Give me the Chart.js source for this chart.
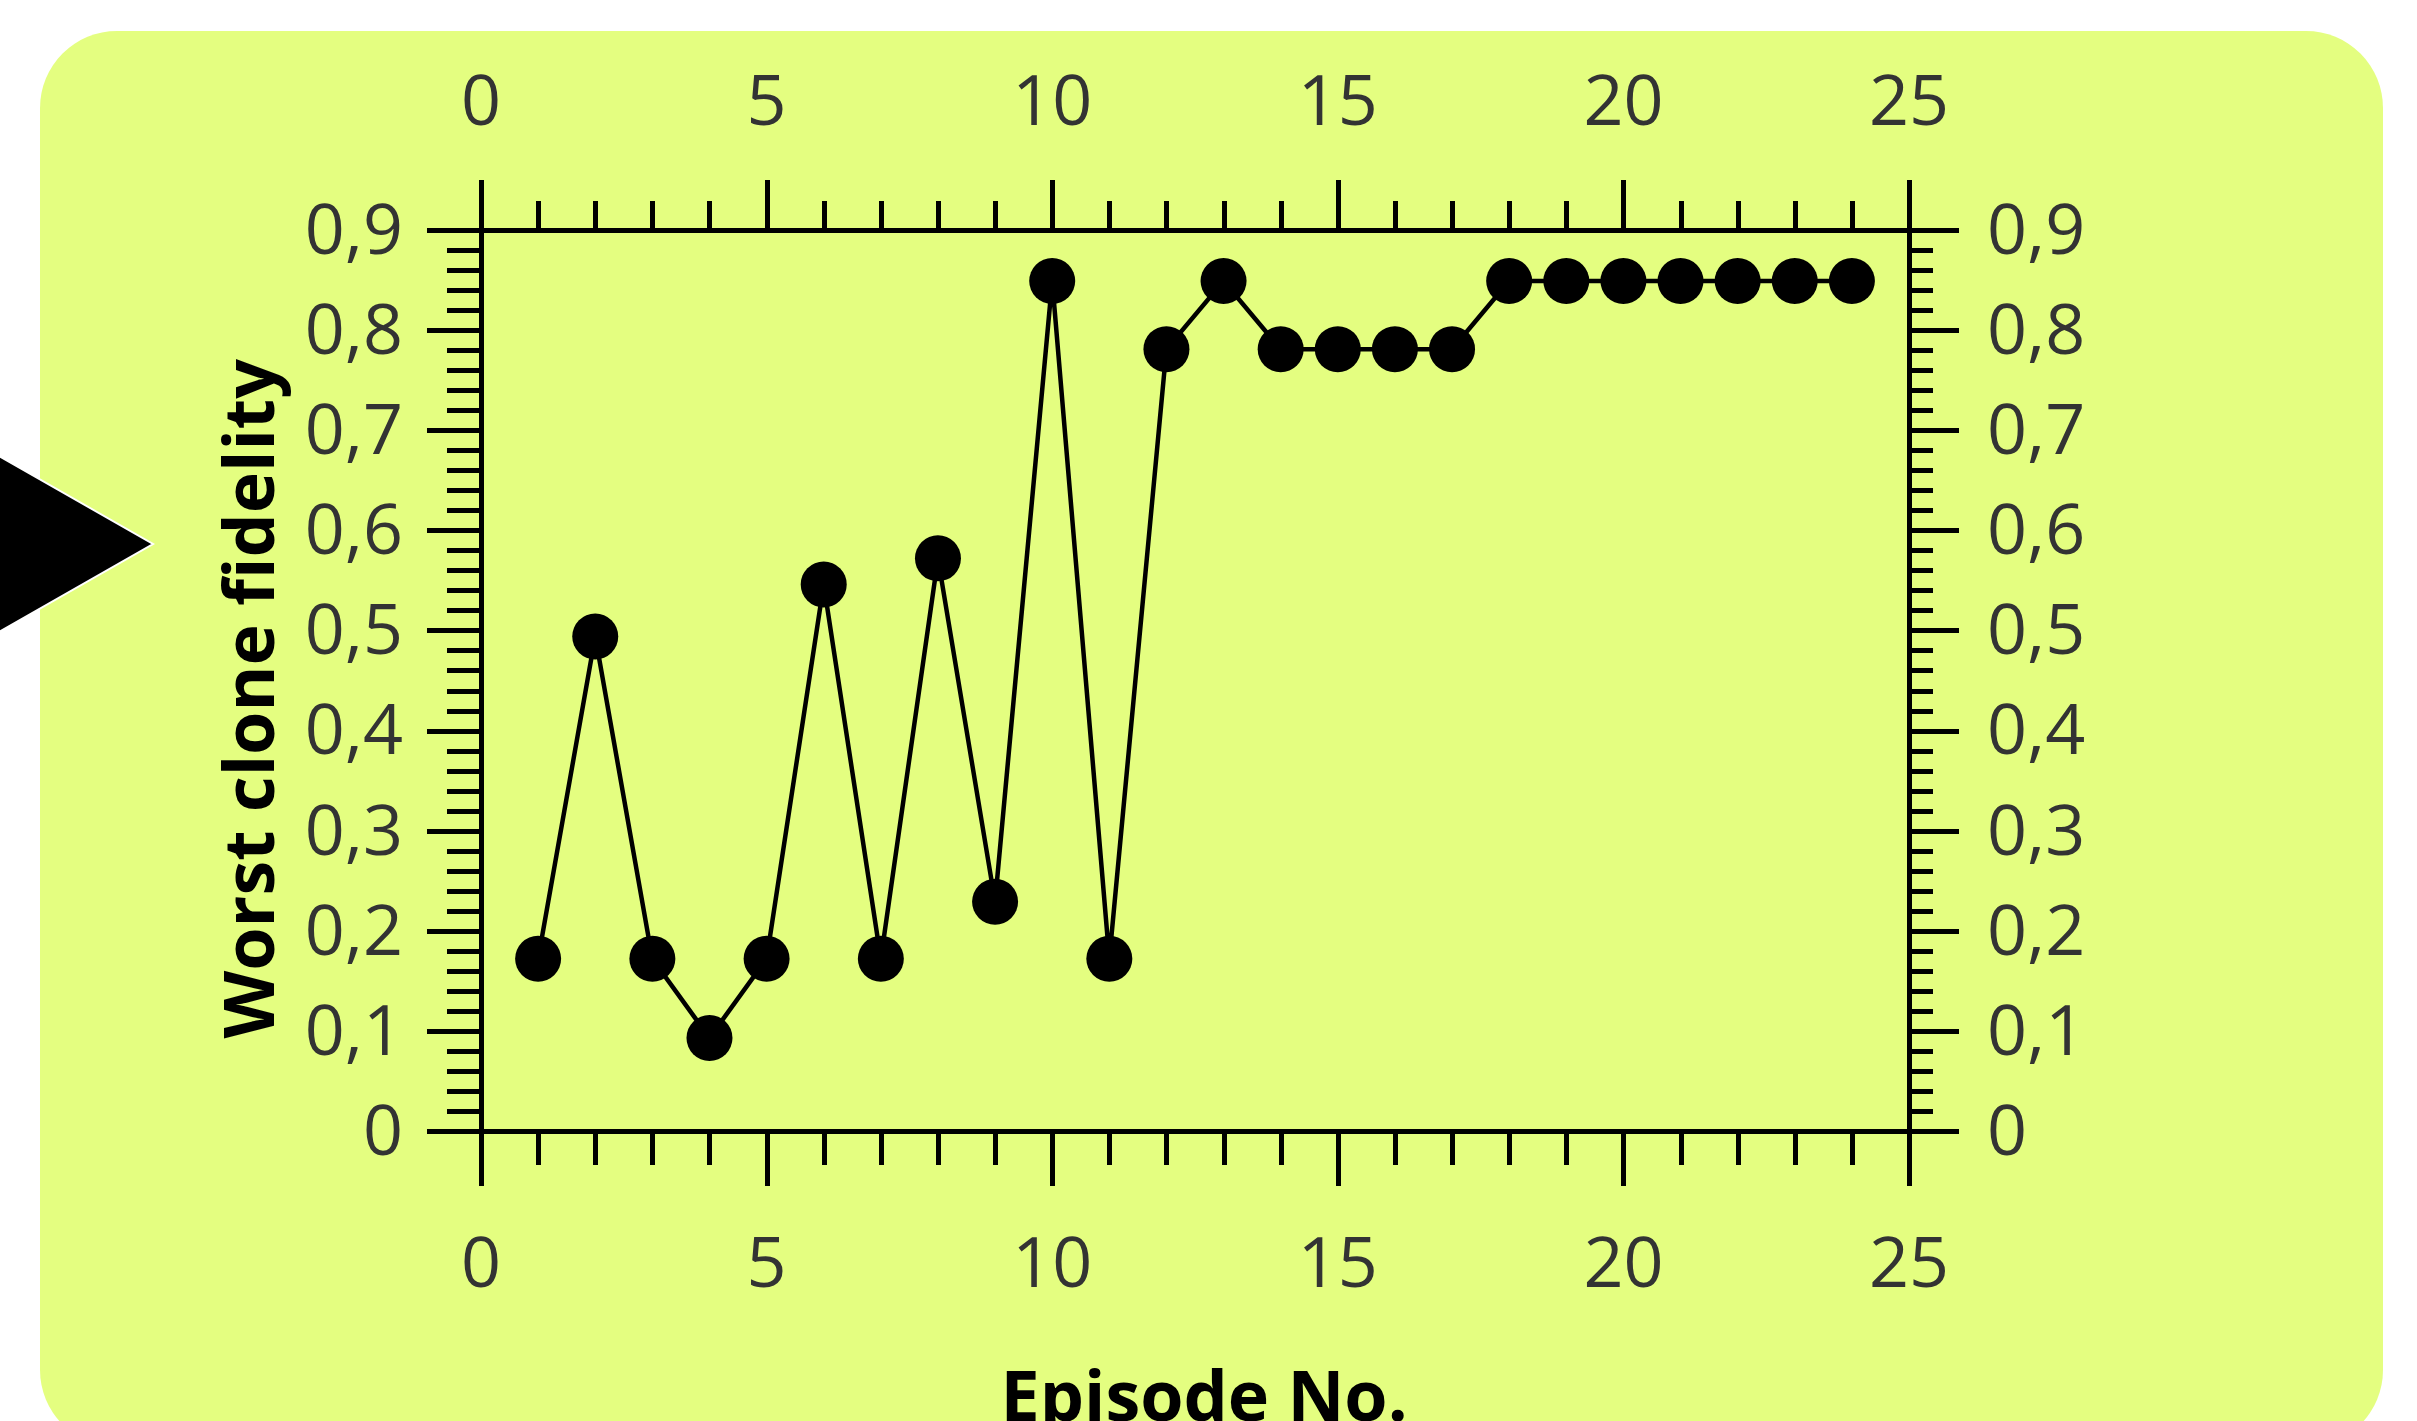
<!DOCTYPE html>
<html>
<head>
<meta charset="utf-8">
<title>Worst clone fidelity per episode</title>
<script src="https://cdn.jsdelivr.net/npm/chart.js@4.4.1/dist/chart.umd.min.js"></script>
<style>
  html, body { margin: 0; padding: 0; background: #fff; overflow: hidden; }
  body { width: 2417px; height: 1421px; position: relative; }
  .card { position: absolute; left: 40px; top: 31px; width: 2343px; height: 1416px; border-radius: 77px; background: #e4fe80; }
  .wrap { position: absolute; left: 0; top: 0; width: 2417px; height: 1480px; }
  .pointer { position: absolute; left: 0; top: 0; }
</style>
</head>
<body>
<div class="card"></div>
<div class="wrap"><canvas id="fidelityChart"></canvas></div>
<svg class="pointer" width="200" height="700"><polygon points="-10,451 153,544 -10,637" fill="#000" stroke="#fff" stroke-width="2"/></svg>
<script>
// data
const episodes = [1, 2, 3, 4, 5, 6, 7, 8, 9, 10, 11, 12, 13, 14, 15, 16, 17, 18, 19, 20, 21, 22, 23, 24];
const fidelity = [0.172, 0.494, 0.172, 0.093, 0.172, 0.546, 0.172, 0.572, 0.229, 0.849, 0.172, 0.781,
                  0.849, 0.781, 0.781, 0.781, 0.781, 0.849, 0.849, 0.849, 0.849, 0.849, 0.849, 0.849];
const xTickLabels = ['0', '5', '10', '15', '20', '25'];
const yTickLabels = ['0', '0,1', '0,2', '0,3', '0,4', '0,5', '0,6', '0,7', '0,8', '0,9'];

const tickFont = { family: "'Open Sans'", size: 70 };
const titleFont = { family: "'Open Sans'", size: 70, weight: 'bold' };
const tickColor = '#333';

// draws major + minor tick marks outward from each axis line
const tickMarks = {
  id: 'tickMarks',
  afterDraw(chart, args, opts) {
    const ctx = chart.ctx;
    ctx.save();
    ctx.strokeStyle = '#000';
    ctx.lineWidth = 5;
    ctx.lineCap = 'butt';
    for (const id in opts.axes) {
      const s = chart.scales[id];
      const a = opts.axes[id];
      const n = Math.round((s.max - s.min) / a.step);
      for (let i = 0; i <= n; i++) {
        const len = i % a.every === 0 ? a.major : a.minor;
        const p = Math.round(s.getPixelForValue(s.min + i * a.step)) + 0.5;
        ctx.beginPath();
        if (s.position === 'bottom') { ctx.moveTo(p, s.top); ctx.lineTo(p, s.top + len); }
        else if (s.position === 'top') { ctx.moveTo(p, s.bottom); ctx.lineTo(p, s.bottom - len); }
        else if (s.position === 'left') { ctx.moveTo(s.right, p); ctx.lineTo(s.right - len, p); }
        else { ctx.moveTo(s.left, p); ctx.lineTo(s.left + len, p); }
        ctx.stroke();
      }
    }
    ctx.restore();
  }
};

const border = { display: true, color: '#000', width: 5 };
const noGrid = { display: false, drawTicks: false };

const ctx = document.getElementById('fidelityChart').getContext('2d');
new Chart(ctx, {
  type: 'line',
  data: {
    datasets: [{
      data: episodes.map((e, i) => ({ x: e, y: fidelity[i] })),
      borderColor: '#000',
      borderWidth: 4.5,
      pointRadius: 23,
      pointHoverRadius: 23,
      pointBackgroundColor: '#000',
      pointBorderWidth: 0,
      tension: 0,
      xAxisID: 'x',
      yAxisID: 'y'
    }]
  },
  options: {
    responsive: true,
    maintainAspectRatio: false,
    animation: false,
    devicePixelRatio: 1,
    layout: { padding: 0 },
    plugins: {
      legend: { display: false },
      tooltip: { enabled: false },
      tickMarks: {
        axes: {
          x:  { step: 1, every: 5, major: 55, minor: 34 },
          x2: { step: 1, every: 5, major: 50, minor: 29 },
          y:  { step: 0.02, every: 5, major: 54, minor: 34 },
          y2: { step: 0.02, every: 5, major: 50, minor: 24 }
        }
      }
    },
    scales: {
      x: {
        type: 'linear', position: 'bottom', min: 0, max: 25,
        grid: noGrid, border: border,
        ticks: { stepSize: 5, padding: 94, color: tickColor, font: tickFont, maxRotation: 0,
                 callback: (v, i) => xTickLabels[i] },
        title: { display: true, text: ' Episode No.', color: '#000', font: titleFont, padding: { top: 0, bottom: 37 } },
        afterFit: s => { s.height = 349; }
      },
      x2: {
        type: 'linear', position: 'top', min: 0, max: 25,
        grid: noGrid, border: border,
        ticks: { stepSize: 5, padding: 83, color: tickColor, font: tickFont, maxRotation: 0,
                 callback: (v, i) => xTickLabels[i] },
        afterFit: s => { s.height = 230; }
      },
      y: {
        type: 'linear', position: 'left', min: 0, max: 0.9,
        grid: noGrid, border: border,
        ticks: { stepSize: 0.1, padding: 78, labelOffset: 4, color: tickColor, font: tickFont,
                 callback: (v, i) => yTickLabels[i] },
        title: { display: true, text: 'Worst clone fidelity  ', color: '#000', font: titleFont, padding: { top: 212, bottom: 0 } },
        afterFit: s => { s.width = 481; }
      },
      y2: {
        type: 'linear', position: 'right', min: 0, max: 0.9,
        grid: noGrid, border: border,
        ticks: { stepSize: 0.1, padding: 78, labelOffset: 4, color: tickColor, font: tickFont,
                 callback: (v, i) => yTickLabels[i] },
        afterFit: s => { s.width = 508; }
      }
    }
  },
  plugins: [tickMarks]
});
</script>
</body>
</html>
